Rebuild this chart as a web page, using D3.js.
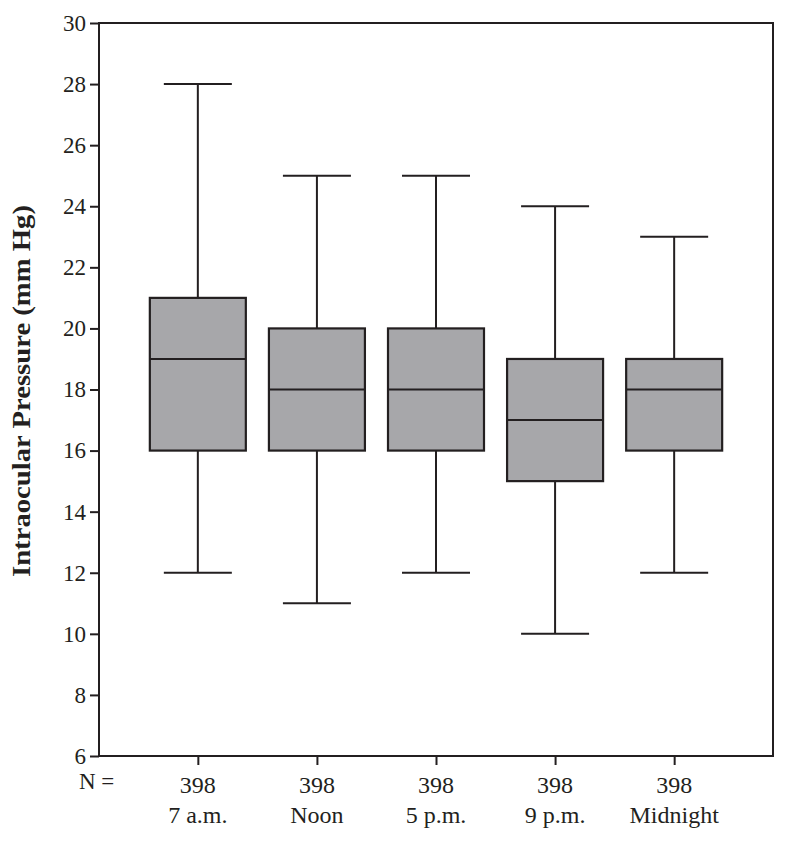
<!DOCTYPE html>
<html><head><meta charset="utf-8">
<script src="https://cdn.jsdelivr.net/npm/d3@7"></script>
<style>body{margin:0;background:#fff}svg{display:block}</style>
</head><body>
<svg id="c" width="785" height="841"></svg>
<script>
const categories = ["7 a.m.", "Noon", "5 p.m.", "9 p.m.", "Midnight"];
const counts = [398, 398, 398, 398, 398];
const whiskerLow = [12, 11, 12, 10, 12];
const q1 = [16, 16, 16, 15, 16];
const median = [19, 18, 18, 17, 18];
const q3 = [21, 20, 20, 19, 19];
const whiskerHigh = [28, 25, 25, 24, 23];
const yTicks = [6, 8, 10, 12, 14, 16, 18, 20, 22, 24, 26, 28, 30];

const svg = d3.select("#c");
const L = 99, R = 773, T = 23, B = 756;
const font = "'Liberation Serif', 'DejaVu Serif', serif";
const ink = "#231f20";

const y = d3.scaleLinear().domain([6, 30]).range([B, T]);
const x = d3.scalePoint().domain(categories).range([L, R]).padding(0.83);

// frame
svg.append("rect").attr("x", L).attr("y", T).attr("width", R - L).attr("height", B - T)
  .attr("fill", "none").attr("stroke", ink).attr("stroke-width", 2);

// y axis
const ya = svg.append("g").attr("transform", `translate(${L},0)`)
  .call(d3.axisLeft(y).tickValues(yTicks).tickSize(9).tickPadding(4));
ya.select(".domain").remove();
ya.selectAll("line").attr("stroke", ink).attr("stroke-width", 2);
ya.selectAll("text").attr("font-family", font).attr("font-size", 23).attr("fill", ink);

// x axis
const xa = svg.append("g").attr("transform", `translate(0,${B})`)
  .call(d3.axisBottom(x).tickSize(9).tickFormat(""));
xa.select(".domain").remove();
xa.selectAll("line").attr("stroke", ink).attr("stroke-width", 2);

const boxW = 96, capW = 68;
const data = categories.map((c, i) => ({c, n: counts[i], lo: whiskerLow[i], q1: q1[i], med: median[i], q3: q3[i], hi: whiskerHigh[i]}));
const g = svg.append("g").selectAll("g").data(data).join("g");
g.append("line").attr("x1", d => x(d.c)).attr("x2", d => x(d.c))
  .attr("y1", d => y(d.hi)).attr("y2", d => y(d.lo)).attr("stroke", ink).attr("stroke-width", 2);
g.append("line").attr("x1", d => x(d.c) - capW/2).attr("x2", d => x(d.c) + capW/2)
  .attr("y1", d => y(d.hi)).attr("y2", d => y(d.hi)).attr("stroke", ink).attr("stroke-width", 2);
g.append("line").attr("x1", d => x(d.c) - capW/2).attr("x2", d => x(d.c) + capW/2)
  .attr("y1", d => y(d.lo)).attr("y2", d => y(d.lo)).attr("stroke", ink).attr("stroke-width", 2);
g.append("rect").attr("x", d => x(d.c) - boxW/2).attr("width", boxW)
  .attr("y", d => y(d.q3)).attr("height", d => y(d.q1) - y(d.q3))
  .attr("fill", "#a7a7aa").attr("stroke", ink).attr("stroke-width", 2.2);
g.append("line").attr("x1", d => x(d.c) - boxW/2).attr("x2", d => x(d.c) + boxW/2)
  .attr("y1", d => y(d.med)).attr("y2", d => y(d.med)).attr("stroke", ink).attr("stroke-width", 2);

// N labels
g.append("text").attr("x", d => x(d.c)).attr("y", 793).attr("text-anchor", "middle")
  .attr("font-family", font).attr("font-size", 24).attr("fill", ink).text(d => d.n);
g.append("text").attr("x", d => x(d.c)).attr("y", 823).attr("text-anchor", "middle")
  .attr("font-family", font).attr("font-size", 24).attr("fill", ink).text(d => d.c);
svg.append("text").attr("x", 79).attr("y", 789).attr("font-family", font).attr("font-size", 23)
  .attr("fill", ink).text("N =");

// y label
svg.append("text").attr("transform", `translate(30,${(205 + 577) / 2}) rotate(-90)`)
  .attr("text-anchor", "middle").attr("font-family", font).attr("font-weight", "bold")
  .attr("font-size", 26).attr("textLength", 372).attr("lengthAdjust", "spacingAndGlyphs")
  .attr("fill", ink).text("Intraocular Pressure (mm Hg)");
</script>
</body></html>
